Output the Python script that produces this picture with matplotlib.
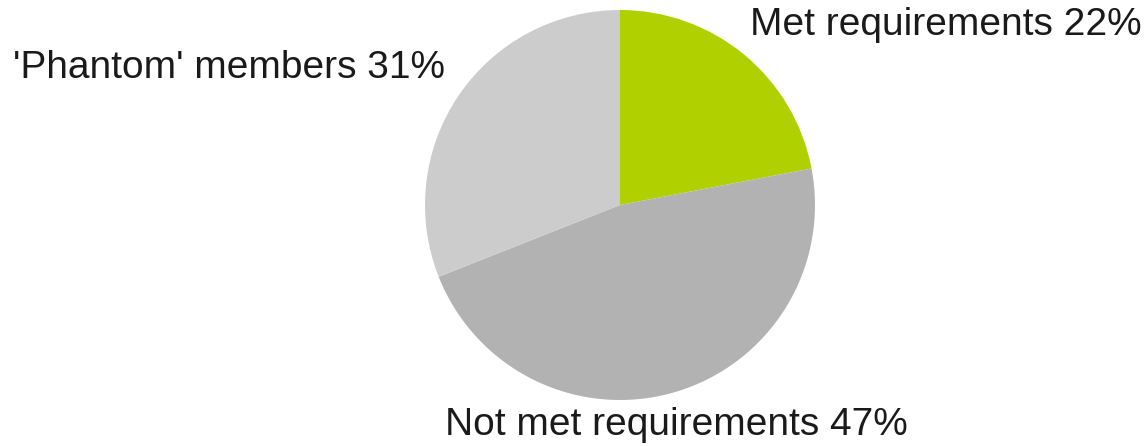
import matplotlib
matplotlib.use('Agg')
import matplotlib.pyplot as plt

# ── Data ───────────────────────────────────────────────────────────────
labels = ["Met requirements", "Not met requirements", "'Phantom' members"]
shares = [22, 47, 31]
colors = ["#b0d000", "#b2b2b2", "#cccccc"]

# label anchors, in pie-radius units (label text only)
label_pos = [(1.672, 0.923), (0.287, -1.128), (-2.005, 0.703)]

W, H = 1146, 446
fig = plt.figure(figsize=(W / 100, H / 100), dpi=100)
# pie centred at (620, 205) px, radius 195 px
ax = fig.add_axes([425 / W, 46 / H, 390 / W, 390 / H])
ax.pie(shares, colors=colors, startangle=90, counterclock=False,
       radius=1, wedgeprops=dict(linewidth=0))
ax.set_xlim(-1, 1)
ax.set_ylim(-1, 1)
ax.set_aspect('auto')
ax.axis('off')

for lab, val, (x, y) in zip(labels, shares, label_pos):
    ax.text(x, y, f"{lab} {val}%", ha='center', va='center',
            fontsize=28, family='Liberation Sans', color='#1a1a1a',
            clip_on=False)

plt.savefig("out.png", dpi=100)
